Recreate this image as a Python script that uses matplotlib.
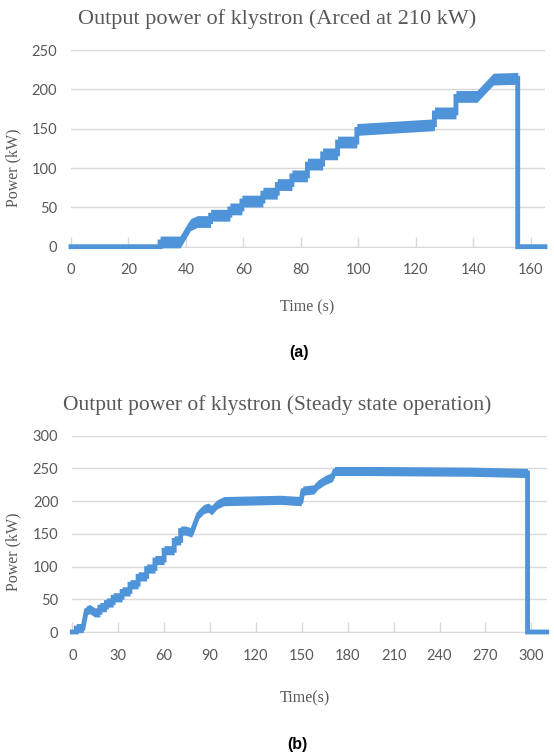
import matplotlib
matplotlib.use("Agg")
import matplotlib.pyplot as plt
import numpy as np

#---------------------------------------#
# DATA
#---------------------------------------#

# (a) arced at 210 kW - step breakpoints
time_a = [0, 31, 31, 38, 41.6, 44, 48.6, 48.6, 55.3, 55.3, 59.5, 59.5, 66.8, 66.8,
          71.8, 71.8, 76.9, 76.9, 82.3, 82.3, 87.6, 87.6, 92.8, 92.8, 99.5, 99.5,
          126.5, 126.5, 134, 134, 141.3, 147, 155.5, 155.5, 165]
power_a = [0, 0, 6, 6, 28, 32, 32, 40, 40, 48, 48, 58, 58, 68,
           68, 79, 79, 90, 90, 105, 105, 118, 118, 133, 133, 149,
           155, 170, 170, 191, 191, 213, 214, 0, 0]

# (b) steady state operation
time_b = [0, 2.6, 2.6, 7, 9.2, 11.4, 14.7, 18, 18, 22.3, 22.3, 26.7, 26.7, 32.5, 32.5,
          37.7, 37.7, 43, 43, 48.6, 48.6, 54, 54, 60, 60, 66.6, 66.6, 70.8, 70.8,
          74, 78, 82.5, 86, 89, 91, 94.6, 99, 136, 149.5, 150.7, 158, 160.4, 165,
          170, 171.5, 196, 260, 297.5, 297.5, 310]
power_b = [0, 0, 6, 6, 33, 35, 30, 30, 38, 38, 45, 45, 53, 53, 62,
           62, 73, 73, 85, 85, 97, 97, 110, 110, 125, 125, 140, 140, 155,
           155, 152, 180, 188, 190, 186, 195, 200, 202, 200, 216, 218, 225, 232,
           237, 246, 246, 245, 243, 0, 0]

xticks_a = [0, 20, 40, 60, 80, 100, 120, 140, 160]
yticks_a = [0, 50, 100, 150, 200, 250]
xticks_b = [0, 30, 60, 90, 120, 150, 180, 210, 240, 270, 300]
yticks_b = [0, 50, 100, 150, 200, 250, 300]

#---------------------------------------#
# STYLE
#---------------------------------------#
W, H = 554, 754
LINE_C = '#4F93D8'
GRID_C = '#D9D9D9'
TEXT_C = '#595959'
SERIF = 'Liberation Serif'
SANS = 'Lato'

fig = plt.figure(figsize=(W / 100, H / 100), dpi=100)


def fy(ypx):
    return 1 - ypx / H


def draw_panel(rect, t, p, xticks, yticks, xmax, band):
    ax = fig.add_axes(rect)
    t = np.array(t)
    p = np.array(p)
    # thick noisy band around the trace, only where the signal is on
    on = p > 0
    ax.fill_between(t, p - band, p + band, where=on, color=LINE_C, lw=0,
                    clip_on=False, zorder=3)
    ax.plot(t, p, color=LINE_C, lw=3.5, clip_on=False, zorder=4, solid_joinstyle='miter')
    ax.set_xlim(0, xmax)
    ax.set_ylim(0, yticks[-1])
    ax.set_xticks(xticks)
    ax.set_yticks(yticks)
    ax.grid(axis='y', color=GRID_C, lw=1)
    ax.set_axisbelow(True)
    for s in ['top', 'right', 'left']:
        ax.spines[s].set_visible(False)
    ax.spines['bottom'].set_color(GRID_C)
    ax.tick_params(axis='x', direction='in', length=7, width=1, color=GRID_C,
                   pad=12, labelsize=10.5, labelcolor=TEXT_C)
    ax.tick_params(axis='y', length=0, pad=10, labelsize=10.5, labelcolor=TEXT_C)
    for lab in ax.get_xticklabels() + ax.get_yticklabels():
        lab.set_family(SANS)
    return ax


# (a)
ax1 = draw_panel([71 / W, fy(246.7), 474 / W, 196.7 / H], time_a, power_a,
                 xticks_a, yticks_a, 165, 7.5)
ax1.set_ylabel('Power (kW)', family=SERIF, fontsize=11.5, color=TEXT_C)
ax1.yaxis.set_label_coords(-0.104, 0.40)
fig.text(0.5, fy(19), 'Output power of klystron (Arced at 210 kW)', family=SERIF,
         fontsize=16, color=TEXT_C, ha='center', va='center')
fig.text(307 / W, fy(307), 'Time (s)', family=SERIF, fontsize=11.5, color=TEXT_C,
         ha='center', va='center')
fig.text(299 / W, fy(353), '(a)', family='Liberation Sans', fontsize=11.5,
         weight='bold', ha='center', va='center')

# (b)
ax2 = draw_panel([72.3 / W, fy(632), 474.4 / W, 196.3 / H], time_b, power_b,
                 xticks_b, yticks_b, 310, 7)
ax2.set_ylabel('Power (kW)', family=SERIF, fontsize=11.5, color=TEXT_C)
ax2.yaxis.set_label_coords(-0.107, 0.41)
fig.text(0.5, fy(405), 'Output power of klystron (Steady state operation)', family=SERIF,
         fontsize=15.5, color=TEXT_C, ha='center', va='center')
fig.text(305 / W, fy(698), 'Time(s)', family=SERIF, fontsize=11.5, color=TEXT_C,
         ha='center', va='center')
fig.text(297 / W, fy(744), '(b)', family='Liberation Sans', fontsize=11.5,
         weight='bold', ha='center', va='center')

fig.savefig('out.png', dpi=100, facecolor='white')
